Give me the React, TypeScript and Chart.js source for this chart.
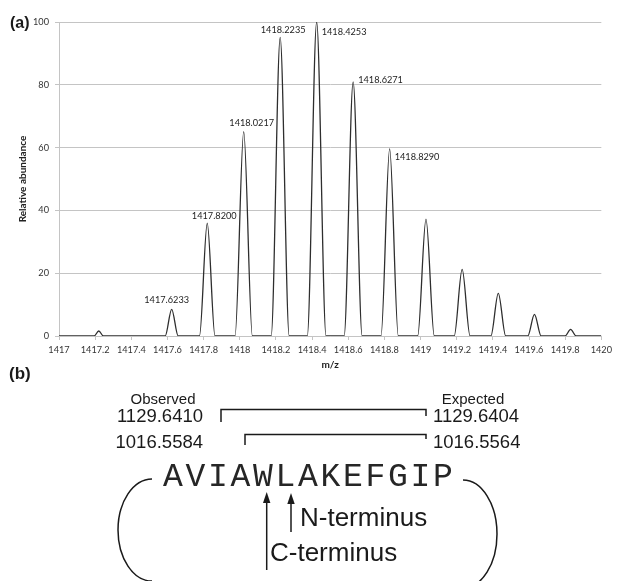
import React, { useEffect, useRef } from 'react';
import { Chart, registerables } from 'chart.js';

Chart.register(...registerables);

// ---- Data ----
const MZ_MIN = 1417;
const MZ_MAX = 1420;
const PEAK_MZ = [1417.22, 1417.6233, 1417.82, 1418.0217, 1418.2235, 1418.4253, 1418.6271, 1418.829, 1419.03, 1419.23, 1419.43, 1419.63, 1419.83];
const PEAK_ABUNDANCE = [1.6, 8.5, 35.9, 65.1, 95.1, 100, 80.9, 59.6, 37.2, 21.2, 13.6, 6.9, 2.1];
const PEAK_HALF_WIDTH = [0.026, 0.036, 0.043, 0.048, 0.05, 0.052, 0.05, 0.048, 0.046, 0.044, 0.041, 0.037, 0.031];
const PEAK_LABELS = ['', '1417.6233', '1417.8200', '1418.0217', '1418.2235', '1418.4253', '1418.6271', '1418.8290', '', '', '', '', ''];
const X_TICK_LABELS = ['1417', '1417.2', '1417.4', '1417.6', '1417.8', '1418', '1418.2', '1418.4', '1418.6', '1418.8', '1419', '1419.2', '1419.4', '1419.6', '1419.8', '1420'];
const Y_TICK_LABELS = ['0', '20', '40', '60', '80', '100'];
const X_TITLE = 'm/z';
const Y_TITLE = 'Relative abundance';

const OBSERVED_MASSES = ['1129.6410', '1016.5584'];
const EXPECTED_MASSES = ['1129.6404', '1016.5564'];
const PEPTIDE = 'AVIAWLAKEFGIP';

// ---- Styles for peak label placement (px relative to apex) ----
const LABEL_PLACEMENT: Record<number, { dx: number; dy: number; align: CanvasTextAlign }> = {
  1: { dx: -5, dy: -9, align: 'center' },
  2: { dx: 7, dy: -7, align: 'center' },
  3: { dx: 8, dy: -9, align: 'center' },
  4: { dx: 3, dy: -7, align: 'center' },
  5: { dx: 5, dy: 10, align: 'left' },
  6: { dx: 5, dy: -2, align: 'left' },
  7: { dx: 5, dy: 8, align: 'left' },
};

function buildSpectrum() {
  const pts: { x: number; y: number }[] = [{ x: MZ_MIN, y: 0 }];
  PEAK_MZ.forEach((c, i) => {
    const w = PEAK_HALF_WIDTH[i];
    pts.push({ x: c - w, y: 0 });
    pts.push({ x: c, y: PEAK_ABUNDANCE[i] });
    pts.push({ x: c + w, y: 0 });
  });
  pts.push({ x: MZ_MAX, y: 0 });
  return pts;
}

const peakLabelPlugin = {
  id: 'peakLabels',
  afterDatasetsDraw(chart: any) {
    const { ctx, scales } = chart;
    ctx.save();
    ctx.font = '9.2px Lato';
    ctx.fillStyle = '#222';
    ctx.textBaseline = 'middle';
    PEAK_LABELS.forEach((label, i) => {
      if (!label) return;
      const p = LABEL_PLACEMENT[i];
      const px = scales.x.getPixelForValue(PEAK_MZ[i]);
      const py = scales.y.getPixelForValue(PEAK_ABUNDANCE[i]);
      ctx.textAlign = p.align;
      ctx.fillText(label, px + p.dx, py + p.dy);
    });
    ctx.restore();
  },
};

const GRID = '#c4c4c4';
const TICK_FONT = { family: 'Lato', size: 9.2 };

export default function App() {
  const ref = useRef<HTMLCanvasElement | null>(null);

  useEffect(() => {
    if (!ref.current) return;
    const chart = new Chart(ref.current, {
      type: 'line',
      data: {
        datasets: [
          {
            data: buildSpectrum(),
            borderColor: '#2e2e2e',
            borderWidth: 1.3,
            pointRadius: 0,
            fill: false,
            cubicInterpolationMode: 'monotone',
          },
        ],
      },
      options: {
        responsive: false,
        animation: false,
        parsing: false as any,
        layout: { padding: { left: 0, right: 12, top: 22, bottom: 9 } },
        plugins: { legend: { display: false }, tooltip: { enabled: false } },
        scales: {
          x: {
            type: 'linear',
            min: MZ_MIN,
            max: MZ_MAX,
            afterFit: (s: any) => { s.height = 35; },
            ticks: {
              stepSize: 0.2,
              autoSkip: false,
              maxRotation: 0,
              padding: 5,
              color: '#333',
              font: TICK_FONT,
              callback: (_v: any, i: number) => X_TICK_LABELS[i],
            },
            grid: { drawOnChartArea: false, drawTicks: true, tickLength: 4, color: GRID },
            border: { display: true, color: GRID },
            title: { display: true, text: X_TITLE, color: '#222', font: { family: 'Lato', size: 10, weight: 'bold' }, padding: { top: 0, bottom: 0 } },
          },
          y: {
            type: 'linear',
            min: 0,
            max: 100,
            afterFit: (s: any) => { s.width = 59; },
            ticks: {
              stepSize: 20,
              padding: 6,
              color: '#333',
              font: TICK_FONT,
              callback: (_v: any, i: number) => Y_TICK_LABELS[i],
            },
            grid: { color: GRID, tickLength: 4 },
            border: { display: true, color: GRID },
            title: { display: true, text: Y_TITLE, color: '#222', font: { family: 'Lato', size: 10, weight: 'bold' }, padding: { top: 17, bottom: 0 } },
          },
        },
      },
      plugins: [peakLabelPlugin],
    } as any);
    return () => chart.destroy();
  }, []);

  const sans = 'Liberation Sans, Arial, sans-serif';
  const ink = '#1a1a1a';

  return (
    <div style={{ position: 'absolute', left: 0, top: 0, width: 617, height: 581, background: '#fff', overflow: 'hidden' }}>
      <canvas ref={ref} width={617} height={380} style={{ position: 'absolute', left: 0, top: 0, width: 617, height: 380 }} />
      <svg width={617} height={581} style={{ position: 'absolute', left: 0, top: 0, pointerEvents: 'none' }}>
        <text x={10} y={22} fontFamily={sans} fontWeight="bold" fontSize={16} dominantBaseline="central" fill={ink}>(a)</text>
        <text x={9} y={373} fontFamily={sans} fontWeight="bold" fontSize={17} dominantBaseline="central" fill={ink}>(b)</text>

        <text x={163} y={398} fontFamily={sans} fontSize={15} textAnchor="middle" dominantBaseline="central" fill={ink}>Observed</text>
        <text x={473} y={398} fontFamily={sans} fontSize={15} textAnchor="middle" dominantBaseline="central" fill={ink}>Expected</text>

        <text x={203} y={415} fontFamily={sans} fontSize={18.5} textAnchor="end" dominantBaseline="central" fill={ink}>{OBSERVED_MASSES[0]}</text>
        <text x={203} y={441} fontFamily={sans} fontSize={18.5} textAnchor="end" dominantBaseline="central" fill={ink}>{OBSERVED_MASSES[1]}</text>
        <text x={433} y={415} fontFamily={sans} fontSize={18.5} dominantBaseline="central" fill={ink}>{EXPECTED_MASSES[0]}</text>
        <text x={433} y={441} fontFamily={sans} fontSize={18.5} dominantBaseline="central" fill={ink}>{EXPECTED_MASSES[1]}</text>

        <path d="M 221 422 V 409.5 H 426 V 416" stroke={ink} strokeWidth={1.5} fill="none" />
        <path d="M 245 445 V 434.5 H 426 V 439" stroke={ink} strokeWidth={1.5} fill="none" />

        <text x={163} y={477} fontFamily="Liberation Mono, Courier New, monospace" fontSize={33} letterSpacing={2.7} dominantBaseline="central" fill="#262626">{PEPTIDE}</text>

        <path d="M 152 479 A 34 51 0 0 0 152 581" stroke={ink} strokeWidth={1.5} fill="none" />
        <path d="M 463 480 A 34 54 0 0 1 463 588" stroke={ink} strokeWidth={1.5} fill="none" />

        <line x1={266.7} y1={570} x2={266.7} y2={501} stroke={ink} strokeWidth={1.5} />
        <polygon points="266.7,492 263,503 270.4,503" fill={ink} />
        <line x1={291} y1={532} x2={291} y2={502} stroke={ink} strokeWidth={1.5} />
        <polygon points="291,493 287.3,504 294.7,504" fill={ink} />

        <text x={300} y={517} fontFamily={sans} fontSize={26} dominantBaseline="central" fill={ink}>N-terminus</text>
        <text x={270} y={552} fontFamily={sans} fontSize={26} dominantBaseline="central" fill={ink}>C-terminus</text>
      </svg>
    </div>
  );
}
